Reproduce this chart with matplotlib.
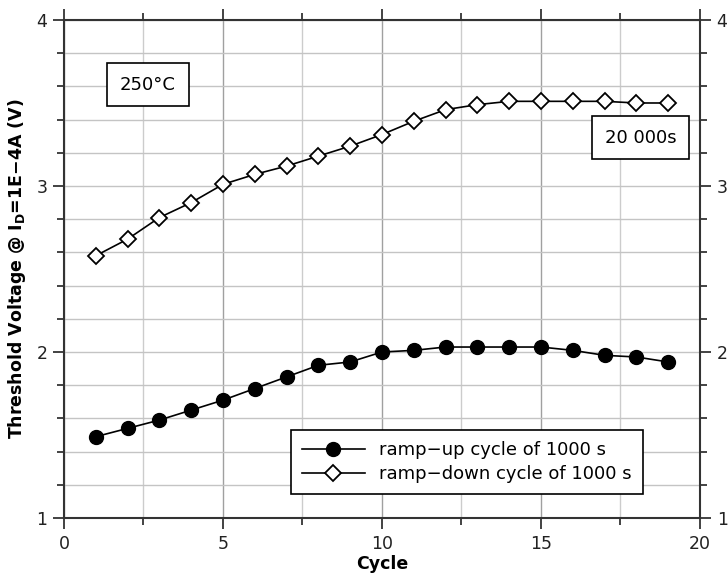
import matplotlib
matplotlib.use("Agg")
import matplotlib.pyplot as plt
from matplotlib.ticker import MultipleLocator

cycles = list(range(1, 20))
ramp_up = [1.49, 1.54, 1.59, 1.65, 1.71, 1.78, 1.85, 1.92, 1.94, 2.00,
           2.01, 2.03, 2.03, 2.03, 2.03, 2.01, 1.98, 1.97, 1.94]
ramp_down = [2.58, 2.68, 2.81, 2.90, 3.01, 3.07, 3.12, 3.18, 3.24, 3.31,
             3.39, 3.46, 3.49, 3.51, 3.51, 3.51, 3.51, 3.50, 3.50]
label_up = "ramp\u2212up cycle of 1000 s"
label_down = "ramp\u2212down cycle of 1000 s"
xticks = [0, 5, 10, 15, 20]
yticks = [1, 2, 3, 4]

plt.rcParams['font.family'] = ['DejaVu Sans']
fig = plt.figure(figsize=(7.28, 5.86), dpi=100)
ax = fig.add_axes([0.0879, 0.116, 0.8736, 0.8499])

ax.plot(cycles, ramp_up, '-o', color='black', lw=1.2, ms=10,
        mfc='black', mec='black', label=label_up, zorder=4)
ax.plot(cycles, ramp_down, '-D', color='black', lw=1.2, ms=8.5,
        mfc='white', mec='black', mew=1.3, label=label_down, zorder=4)

ax.set_xlim(0, 20)
ax.set_ylim(1, 4)
ax.set_xticks(xticks)
ax.set_yticks(yticks)
ax.xaxis.set_minor_locator(MultipleLocator(2.5))
ax.yaxis.set_minor_locator(MultipleLocator(0.2))

ax.grid(which='major', axis='x', color='#a0a0a0', lw=1.0, zorder=0)
ax.grid(which='minor', axis='x', color='#cccccc', lw=1.0, zorder=0)
ax.grid(which='both', axis='y', color='#c4c4c4', lw=1.0, zorder=0)
ax.set_axisbelow(True)

ax.tick_params(which='both', direction='out', top=True, right=True,
               labelright=True, labelsize=12.5, colors='#222222', width=1.2)
ax.tick_params(which='major', length=8, pad=4)
ax.tick_params(which='minor', length=5)
for s in ax.spines.values():
    s.set_linewidth(1.5)
    s.set_color('#333333')

ax.set_xlabel("Cycle", fontsize=12.5, fontweight='bold', labelpad=2)
ax.set_ylabel("Threshold Voltage @ I$_\\mathregular{D}$=1E\u22124A (V)",
              fontsize=12.5, fontweight='bold', labelpad=6)

box = dict(boxstyle='square,pad=0.7', fc='white', ec='black', lw=1.2)
ax.text(2.64, 3.61, "250°C", fontsize=13, ha='center', va='center',
        bbox=box, zorder=5)
ax.text(18.14, 3.29, "20 000s", fontsize=13, ha='center', va='center',
        bbox=box, zorder=5)

leg = ax.legend(loc='lower right', bbox_to_anchor=(0.910, 0.048),
                fontsize=13, fancybox=False, framealpha=1, edgecolor='black',
                handlelength=3.5, borderpad=0.6, labelspacing=0.35,
                borderaxespad=0)
leg.get_frame().set_linewidth(1.2)

fig.savefig("out.png", dpi=100)
